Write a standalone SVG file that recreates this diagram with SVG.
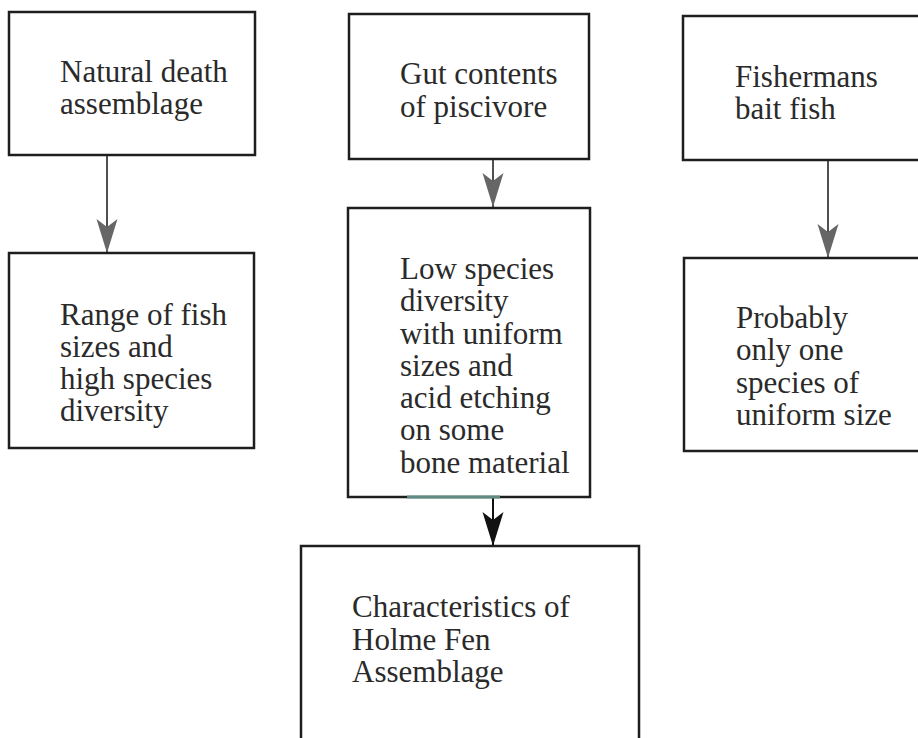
<svg xmlns="http://www.w3.org/2000/svg" width="918" height="738" viewBox="0 0 918 738">
<style>
.box{fill:#fff;stroke:#1e1e1e;stroke-width:2.5}
.t{font-family:"Liberation Serif","Times New Roman",serif;font-size:31px;fill:#2a2a2a}
.c{stroke:#505050;stroke-width:2;fill:none}
.cb{stroke:#111;stroke-width:2;fill:none}
</style>
<defs>
<marker id="ag" markerUnits="userSpaceOnUse" viewBox="-36 -12 38 24" refX="0" refY="0" markerWidth="38" markerHeight="24" orient="auto">
<path d="M0,0 L-34,-10.5 L-26,0 L-34,10.5 Z" fill="#666"/>
</marker>
<marker id="ab" markerUnits="userSpaceOnUse" viewBox="-36 -12 38 24" refX="0" refY="0" markerWidth="38" markerHeight="24" orient="auto">
<path d="M0,0 L-34,-10.5 L-26,0 L-34,10.5 Z" fill="#111"/>
</marker>
</defs>
<rect width="918" height="738" fill="#fff"/>
<g id="connectors">
<line class="c" x1="107" y1="155" x2="107" y2="253" marker-end="url(#ag)"/>
<line class="c" x1="493" y1="159" x2="493" y2="207" marker-end="url(#ag)"/>
<line class="c" x1="828" y1="160" x2="828" y2="258" marker-end="url(#ag)"/>
<line class="cb" x1="493" y1="497" x2="493" y2="546" marker-end="url(#ab)"/>
</g>
<g id="n1">
<rect class="box" x="9" y="12" width="246" height="143"/>
<text class="t" x="60" y="82">Natural death</text>
<text class="t" x="60" y="114">assemblage</text>
</g>
<g id="n2">
<rect class="box" x="349" y="14" width="240" height="145"/>
<text class="t" x="400" y="84">Gut contents</text>
<text class="t" x="400" y="117">of piscivore</text>
</g>
<g id="n3">
<rect class="box" x="683" y="16" width="240" height="144"/>
<text class="t" x="735" y="87">Fishermans</text>
<text class="t" x="735" y="119">bait fish</text>
</g>
<g id="n4">
<rect class="box" x="9" y="253" width="245" height="195"/>
<text class="t" x="60" y="325">Range of fish</text>
<text class="t" x="60" y="357">sizes and</text>
<text class="t" x="60" y="389">high species</text>
<text class="t" x="60" y="421">diversity</text>
</g>
<g id="n5">
<rect class="box" x="348" y="208" width="242" height="289"/>
<line x1="407" y1="497" x2="500" y2="497" stroke="#5e8c84" stroke-width="3"/>
<text class="t" x="400" y="279">Low species</text>
<text class="t" x="400" y="311">diversity</text>
<text class="t" x="400" y="344">with uniform</text>
<text class="t" x="400" y="376">sizes and</text>
<text class="t" x="400" y="408">acid etching</text>
<text class="t" x="400" y="440">on some</text>
<text class="t" x="400" y="473">bone material</text>
</g>
<g id="n6">
<rect class="box" x="684" y="258" width="240" height="193"/>
<text class="t" x="736" y="328">Probably</text>
<text class="t" x="736" y="360">only one</text>
<text class="t" x="736" y="393">species of</text>
<text class="t" x="736" y="425">uniform size</text>
</g>
<g id="n7">
<rect class="box" x="301" y="546" width="338" height="200"/>
<text class="t" x="352" y="617">Characteristics of</text>
<text class="t" x="352" y="650">Holme Fen</text>
<text class="t" x="352" y="682">Assemblage</text>
</g>
</svg>
